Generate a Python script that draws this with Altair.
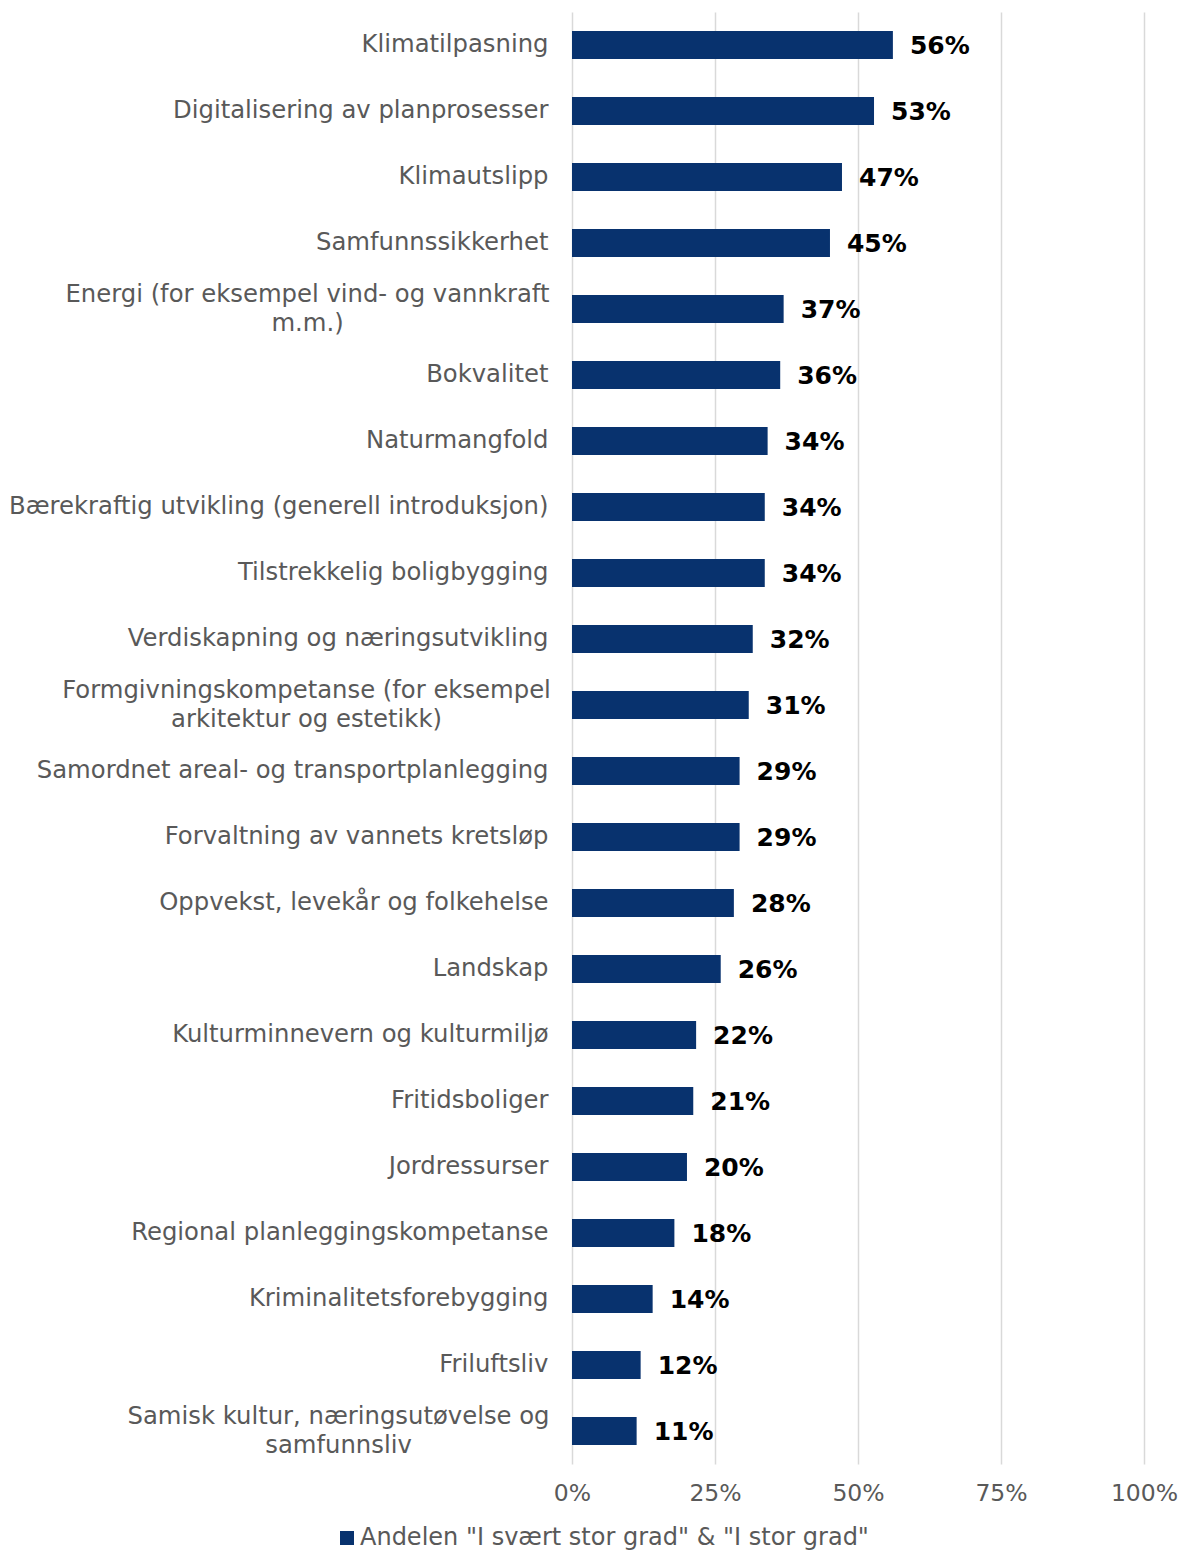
import altair as alt
import pandas as pd

categories = [
    "Klimatilpasning",
    "Digitalisering av planprosesser",
    "Klimautslipp",
    "Samfunnssikkerhet",
    "Energi (for eksempel vind- og vannkraft|m.m.)",
    "Bokvalitet",
    "Naturmangfold",
    "Bærekraftig utvikling (generell introduksjon)",
    "Tilstrekkelig boligbygging",
    "Verdiskapning og næringsutvikling",
    "Formgivningskompetanse (for eksempel|arkitektur og estetikk)",
    "Samordnet areal- og transportplanlegging",
    "Forvaltning av vannets kretsløp",
    "Oppvekst, levekår og folkehelse",
    "Landskap",
    "Kulturminnevern og kulturmiljø",
    "Fritidsboliger",
    "Jordressurser",
    "Regional planleggingskompetanse",
    "Kriminalitetsforebygging",
    "Friluftsliv",
    "Samisk kultur, næringsutøvelse og|samfunnsliv",
]

values = [
    0.561, 0.528, 0.472, 0.451, 0.370, 0.364, 0.342, 0.337, 0.337, 0.316, 0.309,
    0.293, 0.293, 0.283, 0.260, 0.217, 0.212, 0.201, 0.179, 0.141, 0.120, 0.113,
]

series_name = 'Andelen "I svært stor grad" & "I stor grad"'
x_ticks = [0, 0.25, 0.5, 0.75, 1.0]

df = pd.DataFrame({"category": categories, "value": values, "series": series_name})

FONT = "DejaVu Sans"
GRAY = "#595959"
NAVY = "#08326E"

pad_expr = (
    "indexof(datum.value, 'Energi') == 0 ? 265 : "
    "indexof(datum.value, 'Formgiv') == 0 ? 266 : "
    "indexof(datum.value, 'Samisk') == 0 ? 234 : 24"
)
align_expr = "indexof(datum.value, '|') >= 0 ? 'center' : 'right'"
offset_expr = "indexof(datum.value, '|') >= 0 ? -14.5 : 0"

y_enc = alt.Y(
    "category:N",
    sort=categories,
    scale=alt.Scale(paddingInner=0, paddingOuter=0),
    axis=alt.Axis(
        title=None,
        ticks=False,
        domain=False,
        grid=False,
        labelExpr="split(datum.label, '|')",
        labelAlign=alt.ExprRef(expr=align_expr),
        labelPadding=alt.ExprRef(expr=pad_expr),
        labelOffset=alt.ExprRef(expr=offset_expr),
        labelBaseline="middle",
        labelLineHeight=29,
        labelLimit=800,
        labelFontSize=24.3,
        labelColor=GRAY,
        labelFont=FONT,
    ),
)

x_enc = alt.X(
    "value:Q",
    scale=alt.Scale(domain=[0, 1], nice=False),
    axis=alt.Axis(
        title=None,
        values=x_ticks,
        format=".0%",
        ticks=False,
        domain=False,
        grid=True,
        gridColor="#D9D9D9",
        gridWidth=1.5,
        labelPadding=17,
        labelFlush=False,
        labelFontSize=23.5,
        labelColor=GRAY,
        labelFont=FONT,
    ),
)

bars = alt.Chart(df).mark_bar(size=28).encode(
    x=x_enc,
    y=y_enc,
    color=alt.Color(
        "series:N",
        scale=alt.Scale(range=[NAVY]),
        legend=alt.Legend(
            title=None,
            orient="none",
            legendX=-237,
            legendY=1514,
            symbolType="square",
            symbolSize=196,
            symbolStrokeWidth=0,
            labelOffset=1,
            labelFontSize=24,
            labelColor=GRAY,
            labelFont=FONT,
            labelLimit=900,
            padding=0,
        ),
    ),
)

labels = alt.Chart(df).mark_text(
    align="left", baseline="middle", dx=17, dy=1,
    fontSize=25, fontWeight="bold", color="black", font=FONT,
).encode(
    x="value:Q",
    y=alt.Y("category:N", sort=categories),
    text=alt.Text("value:Q", format=".0%"),
)

chart = alt.layer(bars, labels).properties(
    width=572,
    height=1452,
    autosize=alt.AutoSizeParams(type="none"),
    padding={"left": 564, "top": 4, "right": 34, "bottom": 95},
).configure_view(stroke=None)

chart.save("out.html", embed_options={"renderer": "svg", "actions": False})
